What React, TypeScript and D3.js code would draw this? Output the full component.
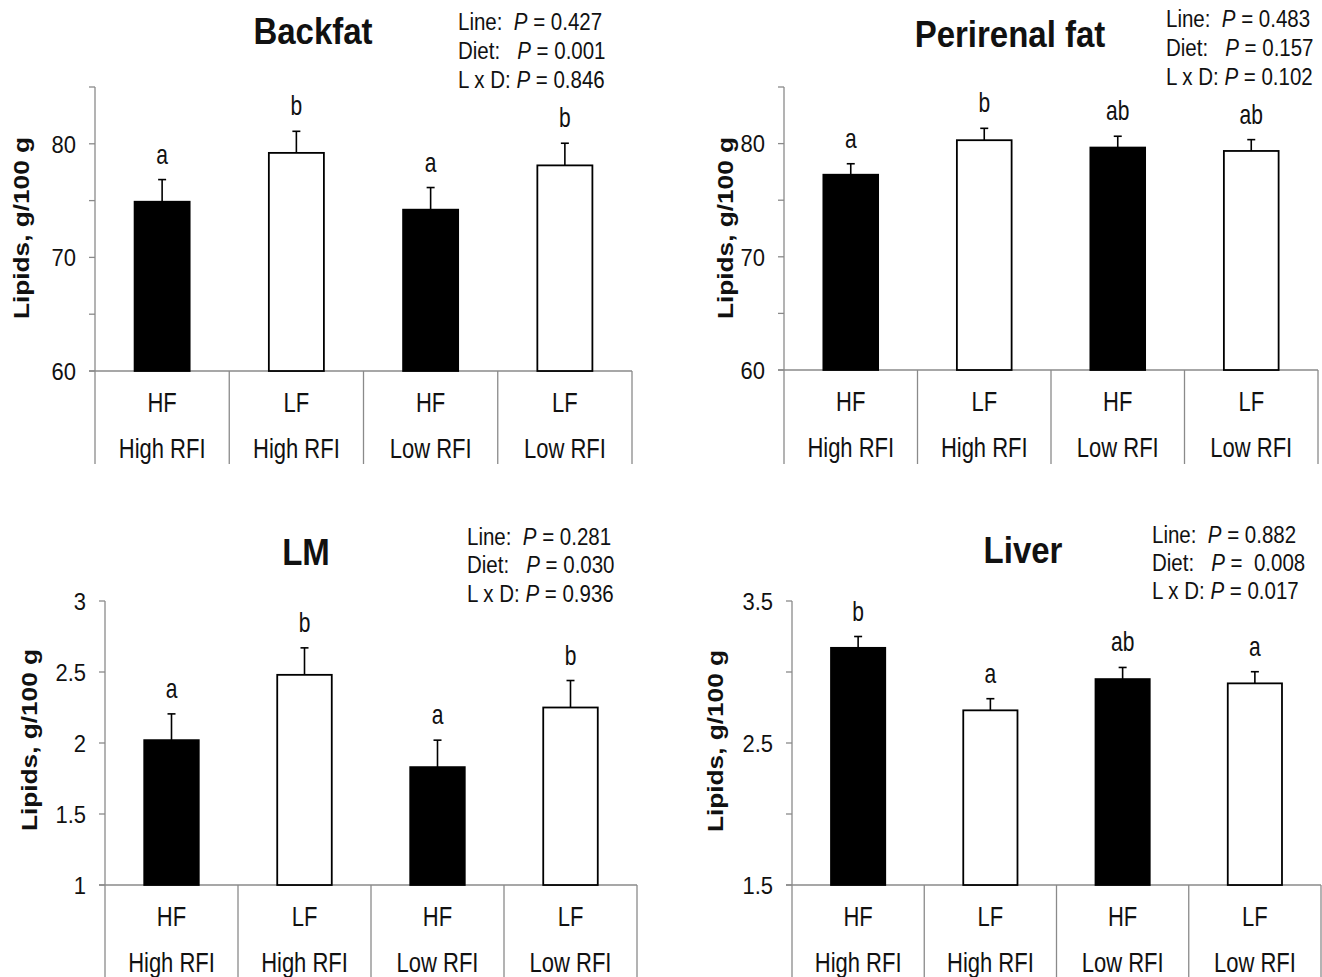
import React from 'react';
import * as d3 from 'd3';

// ---------------- data ----------------
const dietLabels = ['HF', 'LF', 'HF', 'LF'];
const lineLabels = ['High RFI', 'High RFI', 'Low RFI', 'Low RFI'];
const statNames = ['Line:  ', 'Diet:   ', 'L x D: '];

const backfatMean = [74.9, 79.2, 74.2, 78.1];
const backfatSE = [1.95, 1.9, 1.95, 1.95];
const backfatLetters = ['a', 'b', 'a', 'b'];
const backfatP = [' = 0.427', ' = 0.001', ' = 0.846'];

const perirenalMean = [77.25, 80.3, 79.65, 79.35];
const perirenalSE = [0.97, 1.05, 1.0, 1.0];
const perirenalLetters = ['a', 'b', 'ab', 'ab'];
const perirenalP = [' = 0.483', ' = 0.157', ' = 0.102'];

const lmMean = [2.02, 2.48, 1.83, 2.25];
const lmSE = [0.185, 0.19, 0.19, 0.19];
const lmLetters = ['a', 'b', 'a', 'b'];
const lmP = [' = 0.281', ' = 0.030', ' = 0.936'];

const liverMean = [3.17, 2.73, 2.95, 2.92];
const liverSE = [0.08, 0.082, 0.082, 0.082];
const liverLetters = ['b', 'a', 'ab', 'a'];
const liverP = [' = 0.882', ' =  0.008', ' = 0.017'];

const backfatTicks = [60, 65, 70, 75, 80, 85];
const backfatTickLabels = ['60', '', '70', '', '80', ''];
const lmTicks = [1, 1.5, 2, 2.5, 3];
const lmTickLabels = ['1', '1.5', '2', '2.5', '3'];
const liverTicks = [1.5, 2, 2.5, 3, 3.5];
const liverTickLabels = ['1.5', '', '2.5', '', '3.5'];

// ---------------- layout ----------------
const FONT = '"Liberation Sans", Arial, Helvetica, sans-serif';
const AXIS = '#8a8a8a';

type Layout = {
  axisX: number; right: number; top: number; base: number; sepBottom: number;
  titleX: number; titleY: number; statsX: number; statsY: number[];
  labX: number; labY: number;
};

const panels = [
  {
    title: 'Backfat', mean: backfatMean, se: backfatSE, letters: backfatLetters, p: backfatP,
    domain: [60, 85], ticks: backfatTicks, tickLabels: backfatTickLabels,
    layout: { axisX: 95, right: 632, top: 87, base: 371, sepBottom: 464, titleX: 313, titleY: 44,
      statsX: 458, statsY: [30, 59, 88], labX: 29, labY: 228 } as Layout,
  },
  {
    title: 'Perirenal fat', mean: perirenalMean, se: perirenalSE, letters: perirenalLetters, p: perirenalP,
    domain: [60, 85], ticks: backfatTicks, tickLabels: backfatTickLabels,
    layout: { axisX: 784, right: 1318, top: 87, base: 370, sepBottom: 464, titleX: 1010, titleY: 47,
      statsX: 1166, statsY: [27, 56, 85], labX: 733, labY: 228 } as Layout,
  },
  {
    title: 'LM', mean: lmMean, se: lmSE, letters: lmLetters, p: lmP,
    domain: [1, 3], ticks: lmTicks, tickLabels: lmTickLabels,
    layout: { axisX: 105, right: 637, top: 601, base: 885, sepBottom: 977, titleX: 306, titleY: 565,
      statsX: 467, statsY: [545, 573, 602], labX: 37, labY: 740 } as Layout,
  },
  {
    title: 'Liver', mean: liverMean, se: liverSE, letters: liverLetters, p: liverP,
    domain: [1.5, 3.5], ticks: liverTicks, tickLabels: liverTickLabels,
    layout: { axisX: 792, right: 1321, top: 601, base: 885, sepBottom: 977, titleX: 1023, titleY: 563,
      statsX: 1152, statsY: [543, 571, 599], labX: 723, labY: 741 } as Layout,
  },
];

function T(props: {
  x: number; y: number; size: number; k?: number; anchor?: string; weight?: string;
  rotate?: boolean; children: React.ReactNode;
}) {
  const { x, y, size, k = 1, anchor = 'start', weight = 'normal', rotate, children } = props;
  const tr = rotate
    ? `translate(${x},${y}) rotate(-90) scale(${k},1)`
    : `translate(${x},${y}) scale(1,${k})`;
  return (
    <text transform={tr} fontSize={size} textAnchor={anchor} fontWeight={weight}
      fontFamily={FONT} fill="#111" style={{ whiteSpace: 'pre' }}>
      {children}
    </text>
  );
}

function Panel({ cfg }: { cfg: typeof panels[number] }) {
  const L = cfg.layout;
  const y = d3.scaleLinear().domain(cfg.domain).range([L.base, L.top]);
  const x = d3.scaleBand<number>().domain(d3.range(4)).range([L.axisX, L.right])
    .paddingInner(0.59).paddingOuter(0.295);
  const step = x.step();
  const bw = x.bandwidth();
  const cells = d3.range(5).map((i) => L.axisX + i * step);
  const capW = 8;

  return (
    <g>
      {/* y axis */}
      <line x1={L.axisX} x2={L.axisX} y1={y(cfg.domain[1])} y2={L.base} stroke={AXIS} strokeWidth={1.3} />
      {cfg.ticks.map((t, i) => (
        <g key={'t' + i}>
          <line x1={L.axisX - 6} x2={L.axisX} y1={y(t)} y2={y(t)} stroke={AXIS} strokeWidth={1.3} />
          {cfg.tickLabels[i] && (
            <T x={L.axisX - 19} y={y(t) + 8.8} size={22} k={1.12} anchor="end">{cfg.tickLabels[i]}</T>
          )}
        </g>
      ))}
      {/* baseline + category table */}
      <line x1={L.axisX - 6} x2={L.right} y1={L.base} y2={L.base} stroke={AXIS} strokeWidth={1.3} />
      {cells.map((cx, i) => (
        <line key={'s' + i} x1={cx} x2={cx} y1={L.base} y2={L.sepBottom} stroke={AXIS} strokeWidth={1.3} />
      ))}
      {dietLabels.map((d, i) => (
        <g key={'c' + i}>
          <T x={(x(i) as number) + bw / 2} y={L.base + 41} size={22} k={1.27} anchor="middle">{d}</T>
          <T x={(x(i) as number) + bw / 2} y={L.base + 87} size={22} k={1.27} anchor="middle">{lineLabels[i]}</T>
        </g>
      ))}
      {/* bars */}
      {cfg.mean.map((m, i) => {
        const cx = (x(i) as number) + bw / 2;
        const top = y(m);
        const errTop = y(m + cfg.se[i]);
        const filled = i % 2 === 0;
        return (
          <g key={'b' + i}>
            <line x1={cx} x2={cx} y1={top} y2={errTop} stroke="#000" strokeWidth={1.6} />
            <line x1={cx - capW / 2} x2={cx + capW / 2} y1={errTop} y2={errTop} stroke="#000" strokeWidth={1.6} />
            <rect x={x(i)} y={top} width={bw} height={L.base - top}
              fill={filled ? '#000' : '#fff'} stroke="#000" strokeWidth={1.8} />
            <T x={cx} y={errTop - 16} size={21} k={1.3} anchor="middle">{cfg.letters[i]}</T>
          </g>
        );
      })}
      {/* title */}
      <T x={L.titleX} y={L.titleY} size={33} k={1.13} anchor="middle" weight="bold">{cfg.title}</T>
      {/* stats */}
      {statNames.map((s, i) => (
        <T key={'p' + i} x={L.statsX} y={L.statsY[i]} size={20.5} k={1.15}>
          {s}<tspan fontStyle="italic">P</tspan>{cfg.p[i]}
        </T>
      ))}
      {/* y label */}
      <T x={L.labX} y={L.labY} size={21.5} k={1.22} anchor="middle" weight="bold" rotate>Lipids, g/100 g</T>
    </g>
  );
}

export default function App() {
  return (
    <svg width={1322} height={977} viewBox="0 0 1322 977"
      style={{ position: 'absolute', left: 0, top: 0, background: '#fff' }}>
      <rect x={0} y={0} width={1322} height={977} fill="#fff" />
      {panels.map((p, i) => <Panel key={i} cfg={p} />)}
    </svg>
  );
}
